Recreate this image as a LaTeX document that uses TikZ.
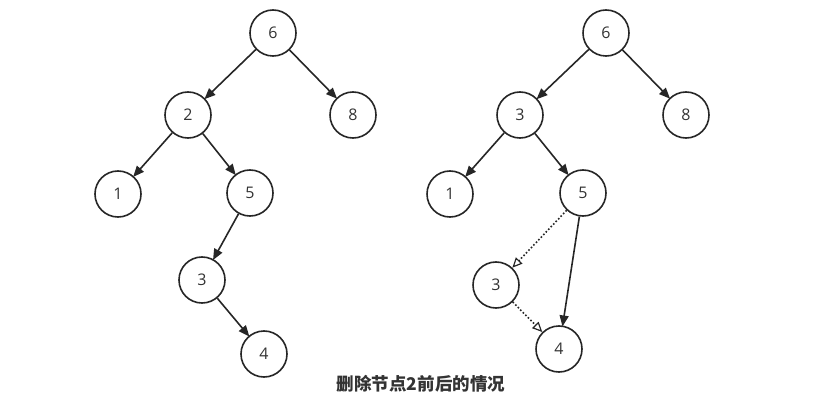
\documentclass[tikz,border=0pt]{standalone}
\usepackage{fontspec}
\setmainfont{Open Sans}
\newfontfamily\cjk{Noto Sans CJK SC}
\usetikzlibrary{arrows.meta}
\definecolor{ln}{HTML}{262626}
\definecolor{tx}{HTML}{333333}
\tikzset{
  tn/.style={circle, draw=ln, line width=1.6pt, minimum size=46pt, inner sep=0pt, text=tx, font=\fontsize{16}{16}\selectfont},
  edge/.style={draw=ln, line width=1.6pt, -{Triangle[length=11pt,width=9pt]}, shorten >=-1pt},
  dedge/.style={draw=ln, line width=1.6pt, dotted, -{Triangle[open,length=10pt,width=9pt,line width=1.2pt]}},
}
\begin{document}
\begin{tikzpicture}[x=1pt,y=-1pt]
\useasboundingbox (0,0) rectangle (814,417);
% left tree
\node[tn] (a6) at (273,33) {6};
\node[tn] (a2) at (188,115) {2};
\node[tn] (a8) at (353,115) {8};
\node[tn] (a1) at (118,194) {1};
\node[tn] (a5) at (250,193) {5};
\node[tn] (a3) at (202,280) {3};
\node[tn] (a4) at (264,354) {4};
\draw[edge] (a6) -- (a2);
\draw[edge] (a6) -- (a8);
\draw[edge] (a2) -- (a1);
\draw[edge] (a2) -- (a5);
\draw[edge] (a5) -- (a3);
\draw[edge] (a3) -- (a4);
% right tree
\node[tn] (b6) at (606,33) {6};
\node[tn] (b3) at (520,115) {3};
\node[tn] (b8) at (686,115) {8};
\node[tn] (b1) at (450,194) {1};
\node[tn] (b5) at (583,193) {5};
\node[tn] (c3) at (496,285) {3};
\node[tn] (b4) at (559,349) {4};
\draw[edge] (b6) -- (b3);
\draw[edge] (b6) -- (b8);
\draw[edge] (b3) -- (b1);
\draw[edge] (b3) -- (b5);
\draw[edge] (b5) -- (b4);
\draw[dedge] (b5) -- (c3);
\draw[dedge] (c3) -- (b4);
% caption
\node[text=tx, font=\cjk\bfseries\fontsize{17.5}{17.5}\selectfont] (cap) at (421,384) {删除节点2前后的情况};
\end{tikzpicture}
\end{document}
